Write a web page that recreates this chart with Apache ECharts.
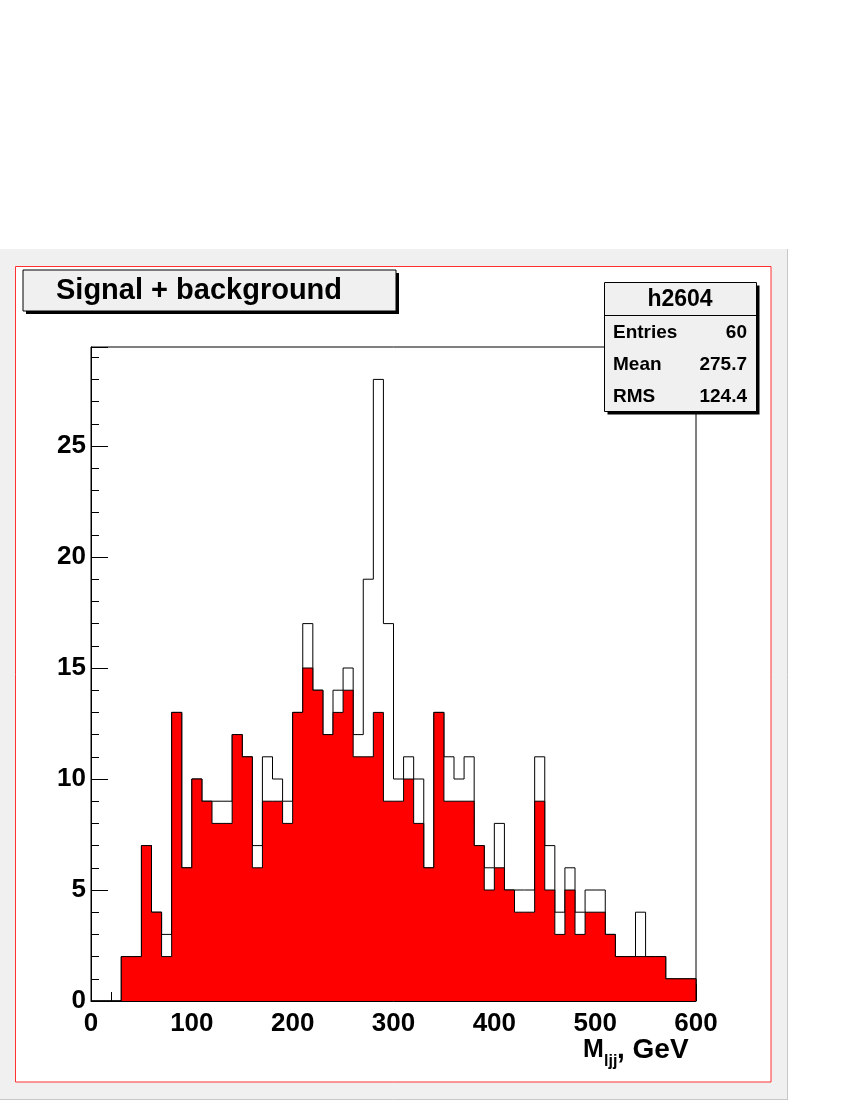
<!DOCTYPE html>
<html><head><meta charset="utf-8">
<script src="https://cdn.jsdelivr.net/npm/echarts@6/dist/echarts.min.js"></script>
<style>html,body{margin:0;padding:0;background:#fff}#c{width:850px;height:1100px}</style>
</head><body><div id="c"></div>
<script>
// Bin lower edges (GeV), bin width 10
const binEdges = [0,10,20,30,40,50,60,70,80,90,100,110,120,130,140,150,160,170,180,190,
  200,210,220,230,240,250,260,270,280,290,300,310,320,330,340,350,360,370,380,390,
  400,410,420,430,440,450,460,470,480,490,500,510,520,530,540,550,560,570,580,590];
const binWidth = 10;
// Signal + background (white outline histogram)
const totalCounts = [0,0,0,2,2,7,4,3,13,6,10,9,9,9,12,11,7,11,10,9,
  13,17,14,12,14,15,12,19,28,17,10,11,10,6,13,11,10,11,7,6,
  8,5,5,5,11,7,4,6,4,5,5,3,2,2,4,2,2,1,1,1];
// Background (red filled histogram)
const bkgCounts = [0,0,0,2,2,7,4,2,13,6,10,9,8,8,12,11,6,9,9,8,
  13,15,14,12,13,14,11,11,13,9,9,10,8,6,13,9,9,9,7,5,
  6,5,4,4,9,5,3,5,3,4,4,3,2,2,2,2,2,1,1,1];
const xTickLabels = [0,100,200,300,400,500,600];
const yTickLabels = [0,5,10,15,20,25];
const statsTitle = 'h2604';
const statsLabels = ['Entries','Mean','RMS'];
const statsValues = ['60','275.7','124.4'];

const FONT = "'Liberation Sans', Arial, Helvetica, sans-serif";
const xMax = binEdges[binEdges.length-1] + binWidth;
const yMax = 29.46;

function stepData(counts){
  const d = binEdges.map((x,i)=>[x,counts[i]]);
  d.push([xMax, counts[counts.length-1]]);
  d.push([xMax, 0]);
  return d;
}

const chart = echarts.init(document.getElementById('c'), null, {renderer:'canvas'});

const statsGraphics = [];
statsGraphics.push({type:'rect', z:100, shape:{x:607.5,y:285.5,width:152,height:129}, style:{fill:'#000'}});
statsGraphics.push({type:'rect', z:101, shape:{x:604.5,y:282.5,width:152,height:129}, style:{fill:'#f0f0f0',stroke:'#000',lineWidth:1}});
statsGraphics.push({type:'line', z:102, shape:{x1:604.5,y1:315.5,x2:756.5,y2:315.5}, style:{stroke:'#000',lineWidth:1}});
statsGraphics.push({type:'text', z:103, x:680, y:300, style:{text:statsTitle, font:'bold 23px '+FONT, fill:'#000', textAlign:'center', textVerticalAlign:'middle'}});
const rowY = [333, 365, 397];
statsLabels.forEach((lab,i)=>{
  statsGraphics.push({type:'text', z:103, x:613, y:rowY[i], style:{text:lab, font:'bold 19px '+FONT, fill:'#000', textAlign:'left', textVerticalAlign:'middle'}});
  statsGraphics.push({type:'text', z:103, x:747, y:rowY[i], style:{text:statsValues[i], font:'bold 19px '+FONT, fill:'#000', textAlign:'right', textVerticalAlign:'middle'}});
});

const option = {
  backgroundColor:'#fff',
  animation:false,
  grid:{left:91, top:347, right:154, bottom:99, show:true, borderColor:'#000', borderWidth:1, backgroundColor:'transparent', containLabel:false},
  xAxis:{
    type:'value', min:0, max:xMax, interval:100,
    axisLine:{show:true, onZero:false, lineStyle:{color:'#000', width:1}},
    axisTick:{show:true, inside:true, length:17, lineStyle:{color:'#000'}},
    minorTick:{show:true, splitNumber:5, length:9, lineStyle:{color:'#000'}},
    splitLine:{show:false}, minorSplitLine:{show:false},
    axisLabel:{formatter:v=>xTickLabels.includes(v)?String(v):'', fontFamily:FONT, fontWeight:'bold', fontSize:26, color:'#000', margin:10}
  },
  yAxis:[{
    type:'value', min:0, max:yMax, interval:5, position:'left',
    axisLine:{show:true, lineStyle:{color:'#000', width:1}},
    axisTick:{show:true, inside:true, length:17, lineStyle:{color:'#000'}},
    splitLine:{show:false},
    axisLabel:{formatter:v=>yTickLabels.includes(v)?String(v):'', fontFamily:FONT, fontWeight:'bold', fontSize:26, color:'#000', margin:5}
  },{
    type:'value', min:0, max:yMax, interval:1, position:'left',
    axisLine:{show:false},
    axisTick:{show:true, inside:true, length:8, lineStyle:{color:'#000'}},
    splitLine:{show:false}, axisLabel:{show:false}
  }],
  series:[
    {name:'Signal + background', type:'line', step:'end', data:stepData(totalCounts), symbol:'none', z:2,
     lineStyle:{color:'#000', width:1}, areaStyle:{color:'#fff', opacity:1}},
    {name:'Background', type:'line', step:'end', data:stepData(bkgCounts), symbol:'none', z:3,
     lineStyle:{color:'#000', width:1}, areaStyle:{color:'#ff0000', opacity:1}}
  ],
  graphic:[
    {type:'rect', z:-100, shape:{x:0,y:249,width:787,height:851}, style:{fill:'#f0f0f0'}},
    {type:'line', z:-99, shape:{x1:787.5,y1:249,x2:787.5,y2:1100}, style:{stroke:'#c8c8c8',lineWidth:1}},
    {type:'line', z:-99, shape:{x1:0,y1:1099.5,x2:787,y2:1099.5}, style:{stroke:'#c8c8c8',lineWidth:1}},
    {type:'rect', z:-98, shape:{x:15.5,y:266.5,width:755.5,height:815.5}, style:{fill:'#fff', stroke:'#ff3030', lineWidth:1}},
    {type:'rect', z:100, shape:{x:26,y:273,width:373,height:41}, style:{fill:'#000'}},
    {type:'rect', z:101, shape:{x:23,y:270,width:373,height:41}, style:{fill:'#f0f0f0', stroke:'#000', lineWidth:1}},
    {type:'text', z:102, x:56, y:291, style:{text:'Signal + background', font:'bold 29px '+FONT, fill:'#000', textAlign:'left', textVerticalAlign:'middle'}},
    {type:'text', z:102, x:583, y:1050, style:{text:'M', font:'bold 25px '+FONT, fill:'#000', textAlign:'left', textVerticalAlign:'middle'}},
    {type:'text', z:102, x:604, y:1062, style:{text:'ljj', font:'bold 16px '+FONT, fill:'#000', textAlign:'left', textVerticalAlign:'middle'}},
    {type:'text', z:102, x:617, y:1050, style:{text:', GeV', font:'bold 28px '+FONT, fill:'#000', textAlign:'left', textVerticalAlign:'middle'}}
  ].concat(statsGraphics)
};
chart.setOption(option);
</script></body></html>
